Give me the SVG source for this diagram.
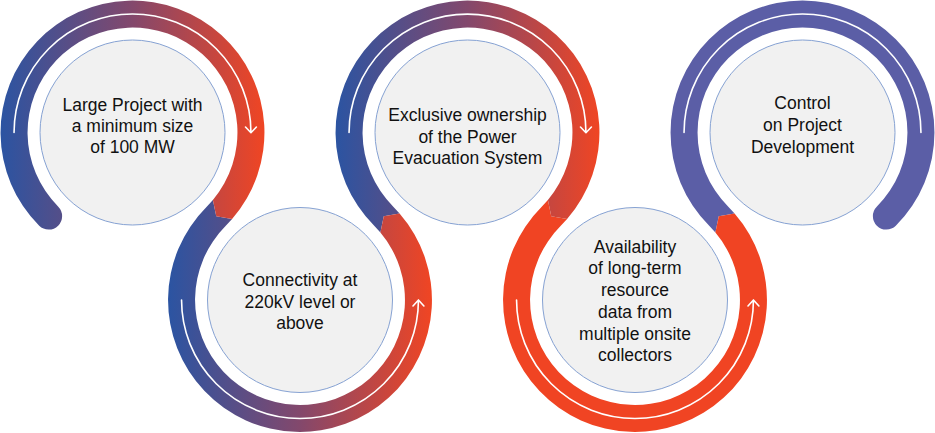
<svg xmlns="http://www.w3.org/2000/svg" width="935" height="433" viewBox="0 0 935 433">
  <style>
    .flow { fill: none; stroke: #ffffff; stroke-width: 1.6; stroke-linecap: round; stroke-linejoin: round; }
    .node circle { fill: #f1f1f1; stroke: #86a2d3; stroke-width: 1; }
    .node text { font-family: "Liberation Sans", Arial, sans-serif; font-size: 17.5px; fill: #111111; text-anchor: middle; }
  </style>
  <defs>
    <linearGradient id="g1" gradientUnits="userSpaceOnUse" x1="0" y1="0" x2="265" y2="0">
      <stop offset="0" stop-color="#2b54a2"/>
      <stop offset="0.5" stop-color="#83486c"/>
      <stop offset="1" stop-color="#f04523"/>
    </linearGradient>
    <linearGradient id="g2" gradientUnits="userSpaceOnUse" x1="168" y1="0" x2="432" y2="0">
      <stop offset="0" stop-color="#2b54a2"/>
      <stop offset="0.5" stop-color="#83486c"/>
      <stop offset="1" stop-color="#f04523"/>
    </linearGradient>
    <linearGradient id="g3" gradientUnits="userSpaceOnUse" x1="335" y1="0" x2="600" y2="0">
      <stop offset="0" stop-color="#2b54a2"/>
      <stop offset="0.5" stop-color="#83486c"/>
      <stop offset="1" stop-color="#f04523"/>
    </linearGradient>
  </defs>

  <g id="connectors">
    <path id="ring5" fill="#5b5ea6" d="M 715.40 232.54 L 718.76 216.24 L 734.58 213.43 L 728.29 206.71 A 104.95 104.95 0 1 1 876.71 206.71 A 13.5 13.5 0 0 0 895.80 225.80 A 131.95 131.95 0 1 0 709.20 225.80 Z"/>
    <path id="ring4" fill="#f04423" d="M 547.90 199.96 L 551.26 216.26 L 567.08 219.07 L 560.79 225.79 A 104.95 104.95 0 1 0 715.40 232.54 L 718.76 216.24 L 734.58 213.43 A 131.95 131.95 0 1 1 541.70 206.70 Z"/>
    <path id="ring3" fill="url(#g3)" d="M 380.40 232.54 L 383.76 216.24 L 399.58 213.43 L 393.29 206.71 A 104.95 104.95 0 1 1 547.90 199.96 L 551.26 216.26 L 567.08 219.07 A 131.95 131.95 0 1 0 374.20 225.80 Z"/>
    <path id="ring2" fill="url(#g2)" d="M 212.90 199.96 L 216.26 216.26 L 232.08 219.07 L 225.79 225.79 A 104.95 104.95 0 1 0 380.40 232.54 L 383.76 216.24 L 399.58 213.43 A 131.95 131.95 0 1 1 206.70 206.70 Z"/>
    <path id="ring1" fill="url(#g1)" d="M 39.20 225.80 A 131.95 131.95 0 1 1 232.08 219.07 L 216.26 216.26 L 212.90 199.96 A 104.95 104.95 0 1 0 58.29 206.71 A 13.5 13.5 0 0 1 39.20 225.80 Z"/>

    <path class="flow" d="M 14.05 132.5 A 118.45 118.45 0 0 1 250.95 132.5 M 245.5 127 L 250.95 132.7 L 256.4 127"/>
    <path class="flow" d="M 181.55 300 A 118.45 118.45 0 0 0 418.45 300 M 413 306 L 418.45 300 L 423.9 306"/>
    <path class="flow" d="M 349.05 132.5 A 118.45 118.45 0 0 1 585.95 132.5 M 580.5 127 L 585.95 132.7 L 591.4 127"/>
    <path class="flow" d="M 516.55 300 A 118.45 118.45 0 0 0 753.45 300 M 748 306 L 753.45 300 L 758.9 306"/>
    <path class="flow" d="M 684.05 132.5 A 118.45 118.45 0 0 1 920.95 132.5"/>
  </g>

  <g id="node1" class="node">
    <circle cx="132.5" cy="132.5" r="92.5"/>
    <text x="132.5" y="111">Large Project with</text>
    <text x="132.5" y="132.2">a minimum size</text>
    <text x="132.5" y="153.4">of 100 MW</text>
  </g>
  <g id="node2" class="node">
    <circle cx="300" cy="300" r="92.5"/>
    <text x="300" y="286">Connectivity at</text>
    <text x="300" y="307.5">220kV level or</text>
    <text x="300" y="329">above</text>
  </g>
  <g id="node3" class="node">
    <circle cx="467.5" cy="132.5" r="92.5"/>
    <text x="467.5" y="120.7">Exclusive ownership</text>
    <text x="467.5" y="142.5">of the Power</text>
    <text x="467.5" y="164.3">Evacuation System</text>
  </g>
  <g id="node4" class="node">
    <circle cx="635" cy="300" r="92.5"/>
    <text x="635" y="252.7">Availability</text>
    <text x="635" y="274.4">of long-term</text>
    <text x="635" y="296.1">resource</text>
    <text x="635" y="317.8">data from</text>
    <text x="635" y="339.5">multiple onsite</text>
    <text x="635" y="361.2">collectors</text>
  </g>
  <g id="node5" class="node">
    <circle cx="802.5" cy="132.5" r="92.5"/>
    <text x="802.5" y="109">Control</text>
    <text x="802.5" y="130.8">on Project</text>
    <text x="802.5" y="152.6">Development</text>
  </g>
</svg>
